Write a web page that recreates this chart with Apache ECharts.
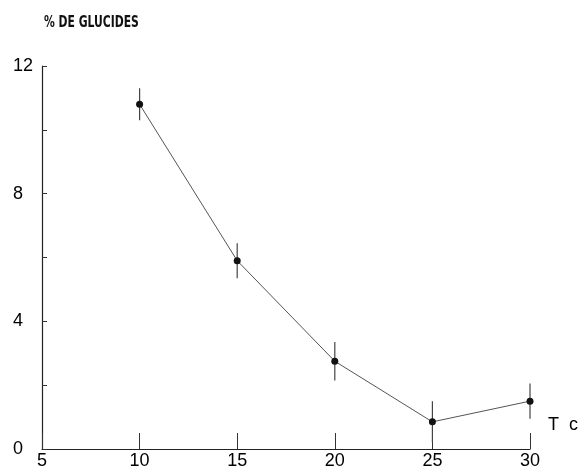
<!DOCTYPE html>
<html>
<head>
<meta charset="utf-8">
<script src="https://cdn.jsdelivr.net/npm/echarts@6/dist/echarts.min.js"></script>
<style>
  html, body { margin: 0; padding: 0; background: #fff; }
  #chart { width: 579px; height: 470px; }
</style>
</head>
<body>
<div id="chart"></div>
<script>
// Carbohydrate content (%) versus temperature (°C)
const temperatures = [10, 15, 20, 25, 30];
const glucides = [10.8, 5.9, 2.75, 0.85, 1.5];
const errors = [0.5, 0.55, 0.6, 0.65, 0.55];
const yLabelValues = [0, 4, 8, 12];

const chart = echarts.init(document.getElementById('chart'));

const errorData = temperatures.map((t, i) => [t, glucides[i] - errors[i], glucides[i] + errors[i]]);

chart.setOption({
  animation: false,
  backgroundColor: '#fff',
  grid: { left: 42, right: 49, top: 66, bottom: 19, containLabel: false },
  xAxis: {
    type: 'value',
    min: 5, max: 30, interval: 5,
    axisLine: { show: true, lineStyle: { color: '#222', width: 1.2 } },
    axisTick: { show: true, inside: true, length: 16, lineStyle: { color: '#333', width: 1 } },
    splitLine: { show: false },
    axisLabel: {
      margin: 3,
      color: '#000',
      fontFamily: 'Liberation Sans, Arial, sans-serif',
      fontSize: 18,
      showMinLabel: true,
      showMaxLabel: true
    }
  },
  yAxis: {
    type: 'value',
    min: 0, max: 12, interval: 2,
    axisLine: { show: true, lineStyle: { color: '#222', width: 1.2 } },
    axisTick: { show: true, inside: true, length: 5, lineStyle: { color: '#333', width: 1 } },
    splitLine: { show: false },
    axisLabel: {
      margin: 29,
      align: 'left',
      color: '#000',
      fontFamily: 'Liberation Sans, Arial, sans-serif',
      fontSize: 18,
      formatter: v => (yLabelValues.indexOf(v) >= 0 ? String(v) : '')
    }
  },
  graphic: [
    {
      type: 'text',
      left: 44, top: 16,
      scaleY: 1.25,
      style: {
        text: '% DE GLUCIDES',
        fill: '#111',
        font: 'bold 12px "Liberation Sans Narrow", "DejaVu Sans Condensed", sans-serif'
      }
    },
    {
      type: 'text',
      left: 548, top: 416,
      style: {
        text: 'T  c',
        fill: '#000',
        font: '18px "Liberation Sans", Arial, sans-serif'
      }
    }
  ],
  series: [
    {
      type: 'line',
      data: temperatures.map((t, i) => [t, glucides[i]]),
      symbol: 'circle',
      symbolSize: 7,
      itemStyle: { color: '#111' },
      lineStyle: { color: '#555', width: 1 },
      z: 3
    },
    {
      type: 'custom',
      data: errorData,
      renderItem: (params, api) => {
        const lo = api.coord([api.value(0), api.value(1)]);
        const hi = api.coord([api.value(0), api.value(2)]);
        return {
          type: 'line',
          shape: { x1: lo[0], y1: lo[1], x2: hi[0], y2: hi[1] },
          style: { stroke: '#444', lineWidth: 1.2 }
        };
      },
      z: 2
    }
  ]
});
</script>
</body>
</html>
